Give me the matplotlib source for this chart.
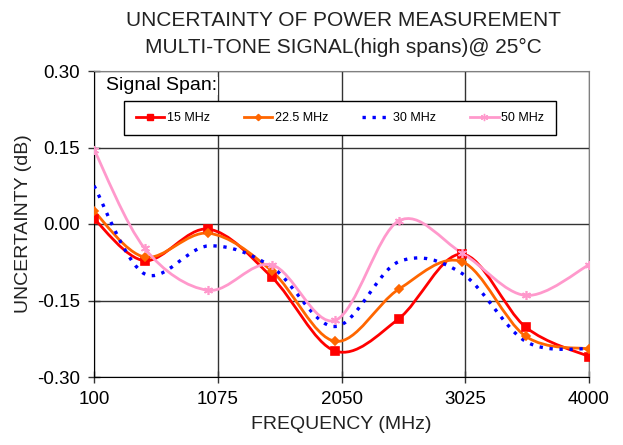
import matplotlib
matplotlib.use("Agg")
import matplotlib.pyplot as plt
from matplotlib.path import Path
from matplotlib.patches import PathPatch
from matplotlib.lines import Line2D
import numpy as np

plt.rcParams['font.family'] = ['Liberation Sans', 'DejaVu Sans']

freq = [100, 500, 1000, 1500, 2000, 2500, 3000, 3500, 4000]
unc_15 = [0.010, -0.072, -0.010, -0.104, -0.249, -0.186, -0.059, -0.202, -0.260]
unc_22 = [0.025, -0.065, -0.018, -0.092, -0.230, -0.128, -0.074, -0.220, -0.245]
unc_30 = [0.075, -0.098, -0.043, -0.084, -0.201, -0.074, -0.097, -0.230, -0.245]
unc_50 = [0.146, -0.048, -0.130, -0.080, -0.189, 0.006, -0.057, -0.140, -0.080]

x_ticks = [100, 1075, 2050, 3025, 4000]
y_ticks = [-0.30, -0.15, 0.00, 0.15, 0.30]


def smooth_path(x, y):
    # excel-style smoothed line: bezier segments through the points
    p = np.column_stack([x, y]).astype(float)
    n = len(p)
    verts = [p[0]]
    codes = [Path.MOVETO]
    for i in range(n - 1):
        p0 = p[i - 1] if i > 0 else p[i]
        p1 = p[i]
        p2 = p[i + 1]
        p3 = p[i + 2] if i + 2 < n else p[i + 1]
        c1 = p1 + (p2 - p0) / 6.0
        c2 = p2 - (p3 - p1) / 6.0
        verts += [c1, c2, p2]
        codes += [Path.CURVE4] * 3
    return Path(verts, codes)


fig = plt.figure(figsize=(6.23, 4.45), dpi=100)
ax = fig.add_axes([94 / 623, 1 - 377 / 445, 495 / 623, 306 / 445])

ax.set_xlim(100, 4000)
ax.set_ylim(-0.30, 0.30)
ax.set_xticks(x_ticks)
ax.set_yticks(y_ticks)
ax.set_xticklabels([str(t) for t in x_ticks], fontsize=13.5)
ax.set_yticklabels(['%.2f' % t for t in y_ticks], fontsize=13.5)
ax.tick_params(direction='inout', length=8, width=1, color='#333333', pad=6)
ax.grid(True, color='#333333', linewidth=1.0)
ax.set_axisbelow(True)
for s in ['top', 'right']:
    ax.spines[s].set_color('#808080')
for s in ['left', 'bottom']:
    ax.spines[s].set_color('black')

series = [
    (unc_15, '15 MHz', '#ff0000', '-', 's', 5.5),
    (unc_22, '22.5 MHz', '#ff6600', '-', 'D', 4.0),
    (unc_30, '30 MHz', '#0000ff', (0, (1, 2)), None, 0),
    (unc_50, '50 MHz', '#ff99cc', '-', (6, 2, 0), 6.5),
]

handles = []
for vals, name, col, ls, mk, ms in series:
    lw = 2.4 if ls != '-' else 2.0
    patch = PathPatch(smooth_path(freq, vals), facecolor='none', edgecolor=col,
                      linewidth=lw, linestyle=ls, capstyle='butt', zorder=3)
    ax.add_patch(patch)
    if mk is not None:
        ax.plot(freq, vals, linestyle='none', marker=mk, markersize=ms,
                color=col, markeredgecolor=col, markeredgewidth=1.2, zorder=4)
    handles.append(Line2D([], [], color=col, linestyle=ls, linewidth=lw,
                          marker=mk, markersize=ms * 0.8, markeredgewidth=1.0))

ax.text(106 / 623, 1 - 86 / 445, 'Signal Span:', transform=fig.transFigure,
        fontsize=14, ha='left', va='center',
        bbox=dict(facecolor='white', edgecolor='none', pad=0.3), zorder=5)

leg = ax.legend(handles, [s[1] for s in series], ncol=4, fontsize=9,
                loc='center', bbox_to_anchor=(340 / 623, 1 - 118 / 445),
                bbox_transform=fig.transFigure, frameon=True, fancybox=False,
                handlelength=2.3, handletextpad=0.2, columnspacing=2.7,
                borderpad=0.9, framealpha=1)
leg.get_frame().set_edgecolor('black')
leg.get_frame().set_linewidth(1.0)
leg.set_zorder(6)

fig.text(343 / 623, 1 - 20 / 445, 'UNCERTAINTY OF POWER MEASUREMENT',
         fontsize=15, ha='center', va='center', color='#222222')
fig.text(343 / 623, 1 - 47 / 445, 'MULTI-TONE SIGNAL(high spans)@ 25\u00b0C',
         fontsize=15, ha='center', va='center', color='#222222')

ax.set_xlabel('FREQUENCY (MHz)', fontsize=14, labelpad=6, color='#222222')
ax.set_ylabel('UNCERTAINTY (dB)', fontsize=14, labelpad=4, color='#222222')

fig.savefig('out.png', dpi=100)
